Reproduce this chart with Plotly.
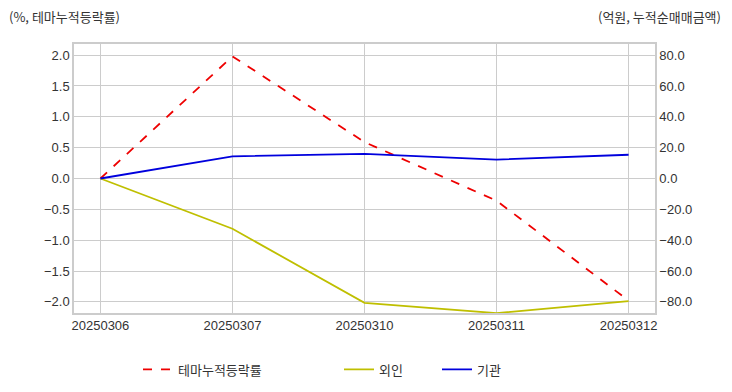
import plotly.graph_objects as go

dates = ["20250306", "20250307", "20250310", "20250311", "20250312"]
theme_ret = [0.0, 1.98, 0.59, -0.36, -1.98]
foreign = [0.0, -32.6, -80.6, -87.3, -79.5]
inst = [0.0, 14.4, 16.0, 12.3, 15.4]

FONT = "Liberation Sans, Arial, Noto Sans CJK KR, sans-serif"
KFONT = "Noto Sans CJK KR, Liberation Sans, sans-serif"
GRID = "#cccccc"
TXT = "#333333"

fig = go.Figure()
fig.add_trace(go.Scatter(x=dates, y=theme_ret, name="테마누적등락률", mode="lines",
                         line=dict(color="#ee0000", width=1.8, dash="dash"), yaxis="y",
                         legend="legend"))
fig.add_trace(go.Scatter(x=dates, y=foreign, name="외인", mode="lines",
                         line=dict(color="#bfbf00", width=1.8), yaxis="y2", legend="legend2"))
fig.add_trace(go.Scatter(x=dates, y=inst, name="기관", mode="lines",
                         line=dict(color="#0000dd", width=1.8), yaxis="y2", legend="legend3"))

PW = 581.0
def lx(px):
    return (px - 74) / PW

leg_common = dict(orientation="h", y=-0.21, yanchor="middle", xanchor="left",
                  font=dict(family=KFONT, size=13, color=TXT), bgcolor="rgba(0,0,0,0)")

fig.update_layout(
    width=724, height=384,
    margin=dict(l=66, r=77, t=36, b=79, autoexpand=False),
    paper_bgcolor="white", plot_bgcolor="white",
    font=dict(family=FONT, size=13, color=TXT),
    xaxis=dict(type="category", range=[-0.2, 4.2], showgrid=True, gridcolor=GRID, gridwidth=1,
               showline=True, linecolor=GRID, linewidth=1.5, mirror=True, ticks="",
               tickfont=dict(size=13), zeroline=False),
    yaxis=dict(range=[-2.18, 2.18], tickvals=[-2, -1.5, -1, -0.5, 0, 0.5, 1, 1.5, 2],
               tickformat=".1f", showgrid=True, gridcolor=GRID, gridwidth=1, zeroline=False,
               showline=True, linecolor=GRID, linewidth=1.5, ticks="", tickfont=dict(size=13)),
    yaxis2=dict(range=[-87.2, 87.2], overlaying="y", side="right",
                tickvals=[-80, -60, -40, -20, 0, 20, 40, 60, 80], tickformat=".1f",
                showgrid=True, gridcolor=GRID, gridwidth=1, zeroline=False,
                showline=True, linecolor=GRID, linewidth=1.5, ticks="", tickfont=dict(size=13)),
    legend=dict(x=lx(138), **leg_common),
    legend2=dict(x=lx(339), **leg_common),
    legend3=dict(x=lx(437), **leg_common),
    showlegend=True,
)
fig.add_annotation(text="(%, 테마누적등락률)", xref="paper", yref="paper", x=0, y=1,
                   xshift=-67, yshift=28, xanchor="left", yanchor="middle", showarrow=False,
                   font=dict(family=KFONT, size=13, color=TXT))
fig.add_annotation(text="(억원, 누적순매매금액)", xref="paper", yref="paper", x=1, y=1,
                   xshift=68, yshift=28, xanchor="right", yanchor="middle", showarrow=False,
                   font=dict(family=KFONT, size=13, color=TXT))

fig.write_html("out.html")
